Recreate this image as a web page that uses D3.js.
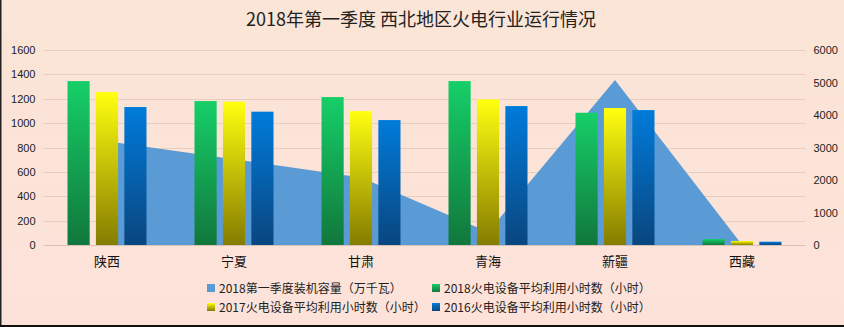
<!DOCTYPE html>
<html><head><meta charset="utf-8">
<script src="https://cdn.jsdelivr.net/npm/d3@7"></script>
<style>
html,body{margin:0;padding:0;}
body{width:844px;height:327px;overflow:hidden;}
svg{display:block;font-family:"Noto Sans CJK SC","Noto Sans",sans-serif;}
</style></head>
<body>
<svg id="c" width="844" height="327"></svg>
<script>
const title = "2018年第一季度 西北地区火电行业运行情况";
const categories = ["陕西","宁夏","甘肃","青海","新疆","西藏"];
const capacity2018Q1 = [3190, 2640, 2080, 400, 5080, 5];
const hours2018 = [1345, 1181, 1214, 1345, 1085, 49];
const hours2017 = [1255, 1176, 1099, 1195, 1124, 33];
const hours2016 = [1132, 1094, 1025, 1140, 1107, 27];
const leftTicks = [0,200,400,600,800,1000,1200,1400,1600];
const rightTicks = [0,1000,2000,3000,4000,5000,6000];
const seriesNames = ["2018第一季度装机容量（万千瓦）","2018火电设备平均利用小时数（小时）","2017火电设备平均利用小时数（小时）","2016火电设备平均利用小时数（小时）"];

const svg = d3.select("#c");
const defs = svg.append("defs");
const bg = defs.append("linearGradient").attr("id","bg").attr("x1",0).attr("y1",0).attr("x2",0).attr("y2",1);
bg.append("stop").attr("offset",0).attr("stop-color","#FAE5D6");
bg.append("stop").attr("offset",1).attr("stop-color","#FDE2D9");
function grad(id, top, bot){
  const g = defs.append("linearGradient").attr("id",id).attr("x1",0).attr("y1",0).attr("x2",0).attr("y2",1);
  g.append("stop").attr("offset",0).attr("stop-color",top);
  g.append("stop").attr("offset",1).attr("stop-color",bot);
}
grad("gGreen","#16CF68","#11773C");
grad("gYellow","#FFFF10","#857C00");
grad("gBlue","#007BDA","#0A467F");

svg.append("rect").attr("width",844).attr("height",327).attr("fill","url(#bg)");
svg.append("rect").attr("x",0).attr("y",0).attr("width",1.5).attr("height",327).attr("fill","#222");
svg.append("rect").attr("x",0).attr("y",325).attr("width",844).attr("height",2).attr("fill","#111");

const M = {left:43.5, right:805.5, top:50, bottom:245};
const x = d3.scaleBand().domain(categories).range([M.left,M.right]).paddingInner(0).paddingOuter(0);
const yL = d3.scaleLinear().domain([0,1600]).range([M.bottom,M.top]);
const yR = d3.scaleLinear().domain([0,6000]).range([M.bottom,M.top]);

svg.append("text").attr("x",421).attr("y",26).attr("text-anchor","middle")
  .attr("font-size",18).attr("fill","#222").text(title);

// gridlines
svg.append("g").selectAll("line").data(leftTicks).join("line")
  .attr("x1",M.left).attr("x2",M.right)
  .attr("y1",d=>Math.round(yL(d))+0.5).attr("y2",d=>Math.round(yL(d))+0.5)
  .attr("stroke",d=>d===0?"#D9C3B4":"#E6CFC0").attr("stroke-width",1);

// left axis labels
const axL = d3.axisLeft(yL).tickValues(leftTicks).tickFormat(d3.format("d")).tickSize(0).tickPadding(8);
const gL = svg.append("g").attr("transform",`translate(${M.left},0)`).call(axL);
gL.select(".domain").remove();
gL.selectAll("text").attr("font-size",11).attr("fill","#222").attr("font-family","Liberation Sans, Arial, sans-serif");

const axR = d3.axisRight(yR).tickValues(rightTicks).tickFormat(d3.format("d")).tickSize(0).tickPadding(8);
const gR = svg.append("g").attr("transform",`translate(${M.right},0)`).call(axR);
gR.select(".domain").remove();
gR.selectAll("text").attr("font-size",11).attr("fill","#222").attr("font-family","Liberation Sans, Arial, sans-serif");

// area
const cx = c => x(c) + x.bandwidth()/2;
const area = d3.area().x((d,i)=>cx(categories[i])).y0(yR(0)).y1(d=>yR(d));
svg.append("path").datum(capacity2018Q1).attr("d",area).attr("fill","#5B9BD5");

// bars
const x1 = d3.scaleBand().domain([0,1,2]).range([-39.5,39.5]).paddingInner(0.22);
const barSeries = [hours2018, hours2017, hours2016];
const fills = ["url(#gGreen)","url(#gYellow)","url(#gBlue)"];
barSeries.forEach((vals,si)=>{
  svg.append("g").selectAll("rect").data(vals).join("rect")
    .attr("x",(d,i)=>cx(categories[i]) + x1(si))
    .attr("width",x1.bandwidth())
    .attr("y",d=>yL(d)).attr("height",d=>yL(0)-yL(d))
    .attr("fill",fills[si]);
});

// category labels
svg.append("g").selectAll("text").data(categories).join("text")
  .attr("x",d=>cx(d)).attr("y",266).attr("text-anchor","middle")
  .attr("font-size",13).attr("fill","#111").text(d=>d);

// legend
const legendPos = [[207,288],[432,288],[207,307],[432,307]];
const legendFill = ["#5B9BD5","url(#gGreen)","url(#gYellow)","url(#gBlue)"];
const lg = svg.append("g");
seriesNames.forEach((n,i)=>{
  const [lx,ly] = legendPos[i];
  lg.append("rect").attr("x",lx).attr("y",ly-4).attr("width",8).attr("height",8).attr("fill",legendFill[i]);
  lg.append("text").attr("x",lx+12).attr("y",ly+4.5).attr("font-size",12).attr("fill","#222").text(n);
});
</script>
</body></html>
